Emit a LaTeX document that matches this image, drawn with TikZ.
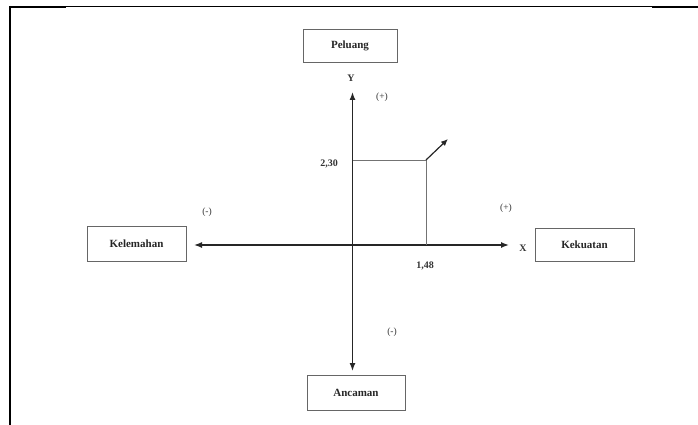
\documentclass[tikz,border=0pt]{standalone}
\usepackage{fontspec}
\setmainfont{Liberation Serif}
\usetikzlibrary{arrows.meta}
\begin{document}
\begin{tikzpicture}[x=1pt,y=-1pt,
  box/.style={draw=black!60,line width=0.9pt,minimum width=99pt,minimum height=35pt,inner sep=0pt,font=\fontsize{11}{13}\selectfont\bfseries,text=black!85},
  lbl/.style={font=\fontsize{9.5}{11}\selectfont,text=black!80,inner sep=0pt},
  axis/.style={line width=1.4pt,draw=black!85,-{Latex[length=8pt,width=6pt]}},
  grid/.style={line width=0.9pt,draw=black!55}]
\useasboundingbox (0,0) rectangle (698,425);
% frame
\draw[line width=2.5pt] (9,7) -- (66,7);
\draw[line width=1pt] (66,7) -- (652,7);
\draw[line width=2.5pt] (652,7) -- (698,7);
\draw[line width=2.5pt] (10,6) -- (10,425);
% boxes
\node[box,minimum width=94pt,minimum height=33pt] (pel) at (350,45.5) {Peluang};
\node[box] (kel) at (136.5,244) {Kelemahan};
\node[box,minimum height=33pt] (kek) at (584.5,244.5) {Kekuatan};
\node[box,minimum width=98pt] (anc) at (356,393) {Ancaman};
% axes
\coordinate (o) at (352.5,245);
\coordinate (xp) at (509,245);
\coordinate (xn) at (194,245);
\coordinate (yp) at (352.5,92);
\coordinate (yn) at (352.5,371);
\draw[axis] (o) -- (xp);
\draw[axis] (o) -- (xn);
\draw[axis] (o) -- (yp);
\draw[axis] (o) -- (yn);
% rectangle
\coordinate (ty) at (352.5,160);
\coordinate (tr) at (426,160);
\coordinate (br) at (426,245);
\coordinate (tip) at (448,139);
\draw[grid] (ty) -- (tr) -- (br);
\draw[line width=1.8pt,draw=black!85] (o) -- (br);
\draw[line width=1.2pt,draw=black!85,-{Latex[length=7pt,width=6pt]}] (tr) -- (tip);
% labels
\node[lbl,font=\fontsize{10}{12}\selectfont\bfseries] (ly) at (351,78) {Y};
\node[lbl,font=\fontsize{10}{12}\selectfont\bfseries] (lx) at (523,248) {X};
\node[lbl] (p1) at (382,97) {(+)};
\node[lbl] (m1) at (207,212) {(-)};
\node[lbl] (p2) at (506,208) {(+)};
\node[lbl] (m2) at (392,332) {(-)};
\node[lbl,font=\fontsize{10}{12}\selectfont\bfseries] (v1) at (329,164) {2,30};
\node[lbl,font=\fontsize{10}{12}\selectfont\bfseries] (v2) at (425,266) {1,48};
\end{tikzpicture}
\end{document}
